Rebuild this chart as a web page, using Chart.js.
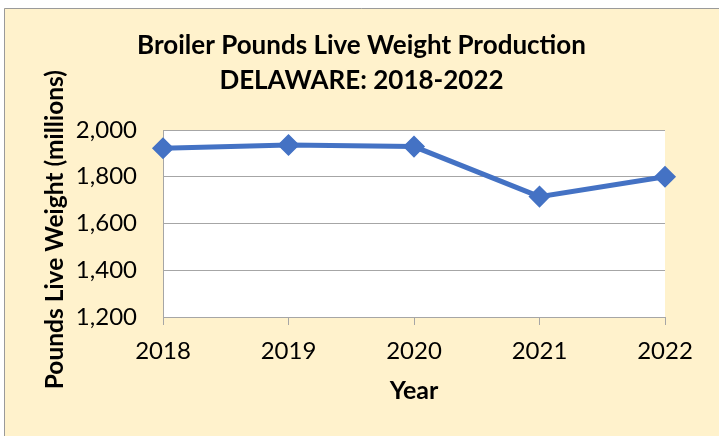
<!DOCTYPE html>
<html><head><meta charset="utf-8">
<script src="https://cdn.jsdelivr.net/npm/chart.js@4"></script>
<style>html,body{margin:0;padding:0;background:#fff}#wrap{width:719px;height:436px;position:relative}</style>
</head><body><div id="wrap"><canvas id="c" width="719" height="436"></canvas></div>
<script>
const years = ['2018', '2019', '2020', '2021', '2022'];
const production = [1922, 1936, 1929, 1715, 1800];
const yMin = 1200;
const yMax = 2000;
const yStep = 200;
const titleLines = ['Broiler Pounds Live Weight Production', 'DELAWARE: 2018-2022'];
const xTitle = 'Year';
const yTitle = 'Pounds Live Weight (millions)';

const FONT = 'Lato';
const bgPlugin = {
  id: 'bg',
  beforeDraw(chart) {
    const ctx = chart.ctx, w = chart.width, h = chart.height, a = chart.chartArea;
    ctx.save();
    ctx.fillStyle = '#ffffff';
    ctx.fillRect(0, 0, w, h);
    ctx.fillStyle = '#FFF2CC';
    ctx.fillRect(4, 8, w - 4, h - 8);
    ctx.strokeStyle = '#9a9a9a';
    ctx.lineWidth = 1;
    ctx.beginPath();
    ctx.moveTo(4.5, h);
    ctx.lineTo(4.5, 8.5);
    ctx.lineTo(w, 8.5);
    ctx.stroke();
    ctx.fillStyle = '#ffffff';
    ctx.fillRect(a.left, a.top, a.right - a.left, a.bottom - a.top);
    ctx.restore();
  }
};

new Chart(document.getElementById('c'), {
  type: 'line',
  data: {
    labels: years,
    datasets: [{
      data: production,
      borderColor: '#4472C4',
      backgroundColor: '#4472C4',
      borderWidth: 5,
      pointStyle: 'rectRot',
      pointRadius: 10,
      pointHoverRadius: 10,
      pointBorderWidth: 1.5,
      pointBackgroundColor: '#4472C4',
      pointBorderColor: '#4472C4',
      tension: 0,
      clip: false,
      yAxisID: 'y'
    }]
  },
  options: {
    responsive: false,
    devicePixelRatio: 1,
    animation: false,
    locale: 'en-US',
    layout: { padding: { left: 4, right: 0, top: 0, bottom: 0 } },
    plugins: {
      legend: { display: false },
      tooltip: { enabled: false },
      title: {
        display: true,
        text: titleLines,
        color: '#000',
        font: { family: FONT, size: 26, weight: 'bold', lineHeight: '35px' },
        padding: { top: 28.5, bottom: 31.5 }
      }
    },
    scales: {
      x: {
        type: 'category',
        offset: false,
        grid: { display: true, drawOnChartArea: false, drawTicks: true, tickLength: 8, color: '#a6a6a6' },
        border: { display: true, color: '#a6a6a6', width: 1 },
        ticks: { color: '#000', padding: 11.5, font: { family: FONT, size: 24 }, maxRotation: 0 },
        title: { display: true, text: xTitle, color: '#000', font: { family: FONT, size: 25, weight: 'bold' }, padding: { top: 0, bottom: 30 } },
        afterFit(s) { s.height = 119; }
      },
      y: {
        type: 'linear',
        position: 'left',
        min: yMin,
        max: yMax,
        ticks: { stepSize: yStep, color: '#000', padding: 26, font: { family: FONT, size: 24 } },
        grid: { color: '#a6a6a6', drawTicks: false },
        border: { display: true, color: '#a6a6a6', width: 1 },
        title: { display: true, text: yTitle + '\u2002', color: '#000', font: { family: FONT, size: 24.5, weight: 'bold' }, padding: { top: 36.3, bottom: 0 } },
        afterFit(s) { s.width = 159; }
      },
      yR: {
        type: 'linear',
        position: 'right',
        display: true,
        grid: { display: false },
        ticks: { display: false },
        border: { display: false },
        afterFit(s) { s.width = 54; }
      }
    }
  },
  plugins: [bgPlugin]
});
</script></body></html>
